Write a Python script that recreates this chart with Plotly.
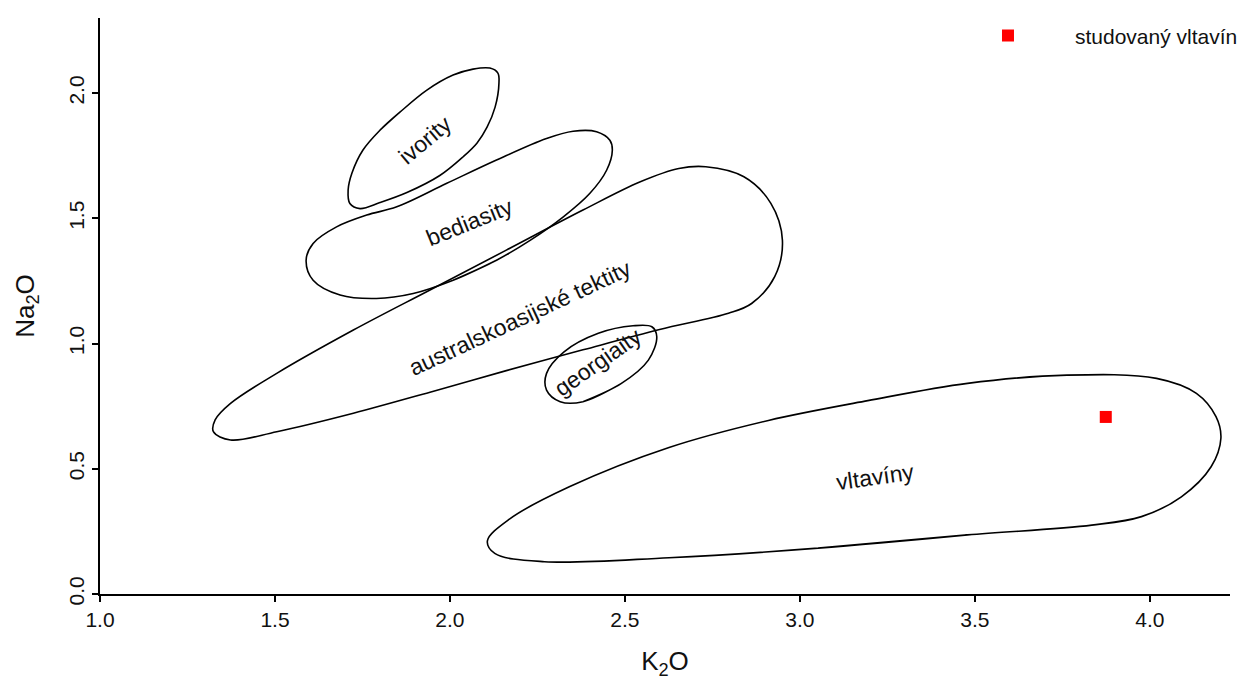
import plotly.graph_objects as go

# Outline polygons (K2O, Na2O)
ivority_x = [1.800, 1.857, 1.934, 2.009, 2.066, 2.114, 2.137, 2.140, 2.129, 2.106,
             2.077, 2.037, 1.971, 1.877, 1.800, 1.743, 1.714, 1.709, 1.720, 1.751]
ivority_y = [1.852, 1.924, 2.012, 2.072, 2.096, 2.100, 2.080, 2.040, 1.944, 1.864,
             1.800, 1.745, 1.671, 1.603, 1.563, 1.539, 1.559, 1.613, 1.681, 1.772]

bediasity_x = [2.133, 2.009, 1.895, 1.790, 1.686, 1.609, 1.589, 1.609, 1.676, 1.762,
               1.848, 1.991, 2.133, 2.276, 2.352, 2.419, 2.457, 2.464, 2.448, 2.400,
               2.324, 2.229]
bediasity_y = [1.333, 1.253, 1.200, 1.180, 1.194, 1.253, 1.333, 1.400, 1.466, 1.513,
               1.546, 1.640, 1.733, 1.819, 1.848, 1.846, 1.812, 1.772, 1.693, 1.600,
               1.506, 1.412]

tektity_x = [1.943, 2.161, 2.380, 2.544, 2.654, 2.731, 2.840, 2.917, 2.950, 2.928,
             2.862, 2.796, 2.599, 2.380, 2.161, 1.943, 1.724, 1.505, 1.373, 1.324,
             1.329, 1.373, 1.505, 1.724]
tektity_y = [1.214, 1.373, 1.533, 1.646, 1.699, 1.706, 1.666, 1.560, 1.413, 1.267,
             1.160, 1.121, 1.056, 0.975, 0.892, 0.806, 0.722, 0.648, 0.615, 0.648,
             0.695, 0.761, 0.881, 1.054]

georgiaity_x = [2.490, 2.380, 2.315, 2.276, 2.276, 2.326, 2.424, 2.523, 2.577, 2.591, 2.567]
georgiaity_y = [0.841, 0.768, 0.768, 0.814, 0.881, 0.967, 1.041, 1.071, 1.067, 1.027, 0.934]

vltaviny_x = [3.052, 3.479, 3.834, 3.976, 4.090, 4.175, 4.203, 4.189, 4.133, 4.019,
              3.763, 3.479, 3.194, 2.910, 2.626, 2.341, 2.171, 2.107, 2.128, 2.270, 2.626]
vltaviny_y = [0.183, 0.236, 0.275, 0.309, 0.388, 0.508, 0.622, 0.708, 0.801, 0.861,
              0.874, 0.841, 0.772, 0.693, 0.585, 0.428, 0.300, 0.212, 0.162, 0.129, 0.145]

# Studied moldavite
sample_x = [3.874]
sample_y = [0.707]

# Field labels
label_text = ["ivority", "bediasity", "australskoasijské tektity", "georgiaity", "vltavíny"]
label_x = [1.929, 2.057, 2.200, 2.423, 3.214]
label_y = [1.812, 1.485, 1.102, 0.926, 0.467]
label_angle = [-40, -22, -25, -35, -8]

xticks = [1.0, 1.5, 2.0, 2.5, 3.0, 3.5, 4.0]
yticks = [0.0, 0.5, 1.0, 1.5, 2.0]

FONT = "Liberation Sans, Arial, sans-serif"
TXT = "#111111"

fig = go.Figure()

outlines = [(ivority_x, ivority_y), (bediasity_x, bediasity_y), (tektity_x, tektity_y),
            (georgiaity_x, georgiaity_y), (vltaviny_x, vltaviny_y)]
for xs, ys in outlines:
    cx = list(xs) + [xs[0], xs[1]]
    cy = list(ys) + [ys[0], ys[1]]
    fig.add_trace(go.Scatter(x=cx, y=cy, mode="lines",
                             line=dict(color="black", width=1.6, shape="spline", smoothing=1.0),
                             showlegend=False, hoverinfo="skip"))

fig.add_trace(go.Scatter(x=sample_x, y=sample_y, mode="markers", name="studovaný vltavín",
                         marker=dict(symbol="square", size=12, color="#ff0000")))

for t, x, y, a in zip(label_text, label_x, label_y, label_angle):
    fig.add_annotation(x=x, y=y, text=t, textangle=a, showarrow=False,
                       font=dict(family=FONT, size=23, color=TXT))

axis_common = dict(showline=True, linecolor="black", linewidth=1.5, ticks="outside",
                   ticklen=6, tickwidth=1.5, tickcolor="black", showgrid=False,
                   zeroline=False, mirror=False, automargin=False,
                   tickfont=dict(family=FONT, size=21, color=TXT))

fig.update_xaxes(range=[1.0, 4.229], tickvals=xticks, ticktext=[f"{v:.1f}" for v in xticks],
                 title=dict(text="K<sub>2</sub>O", font=dict(family=FONT, size=26, color=TXT),
                            standoff=22),
                 **axis_common)
fig.update_yaxes(range=[0, 2.30], tickvals=yticks, ticktext=[f"{v:.1f}" for v in yticks],
                 tickangle=-90,
                 title=dict(text="Na<sub>2</sub>O", font=dict(family=FONT, size=26, color=TXT),
                            standoff=23),
                 **axis_common)

fig.update_layout(
    width=1252, height=679,
    margin=dict(l=92, r=30, t=10, b=93, autoexpand=False),
    plot_bgcolor="white", paper_bgcolor="white",
    showlegend=True,
    legend=dict(xref="container", yref="container", x=0.7452, y=0.959,
                xanchor="left", yanchor="middle",
                itemwidth=124, font=dict(family=FONT, size=21, color=TXT),
                bgcolor="rgba(0,0,0,0)"),
)

fig.write_html("out.html")
